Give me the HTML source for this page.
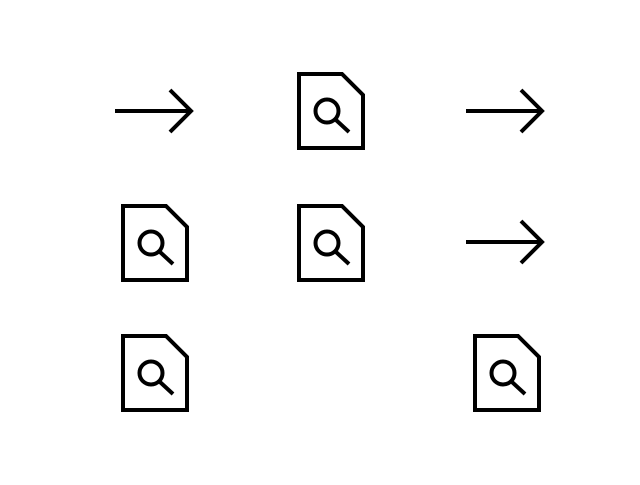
<!DOCTYPE html>
<html><head><style>html,body{margin:0;background:#fff}</style></head><body>
<svg width="640" height="480" viewBox="0 0 640 480" xmlns="http://www.w3.org/2000/svg">
<defs>
<g id="doc" fill="none" stroke="#000" stroke-width="4">
<path d="M2 2 H45 L66 23 V76 H2 Z" stroke-linejoin="miter"/>
<circle cx="30" cy="39" r="11.5" stroke-width="4"/>
<line x1="39" y1="48" x2="52" y2="60" stroke-width="4"/>
</g>
<g id="arr" fill="none" stroke="#000" stroke-width="4">
<line x1="0" y1="0" x2="76" y2="0"/>
<polyline points="55,-21 76,0 55,21"/>
</g>
</defs>
<use href="#doc" x="297" y="72"/>
<use href="#doc" x="121" y="204"/>
<use href="#doc" x="297" y="204"/>
<use href="#doc" x="121" y="334"/>
<use href="#doc" x="473" y="334"/>
<use href="#arr" x="115" y="111"/>
<use href="#arr" x="466" y="111"/>
<use href="#arr" x="466" y="242"/>
</svg>
</body></html>
